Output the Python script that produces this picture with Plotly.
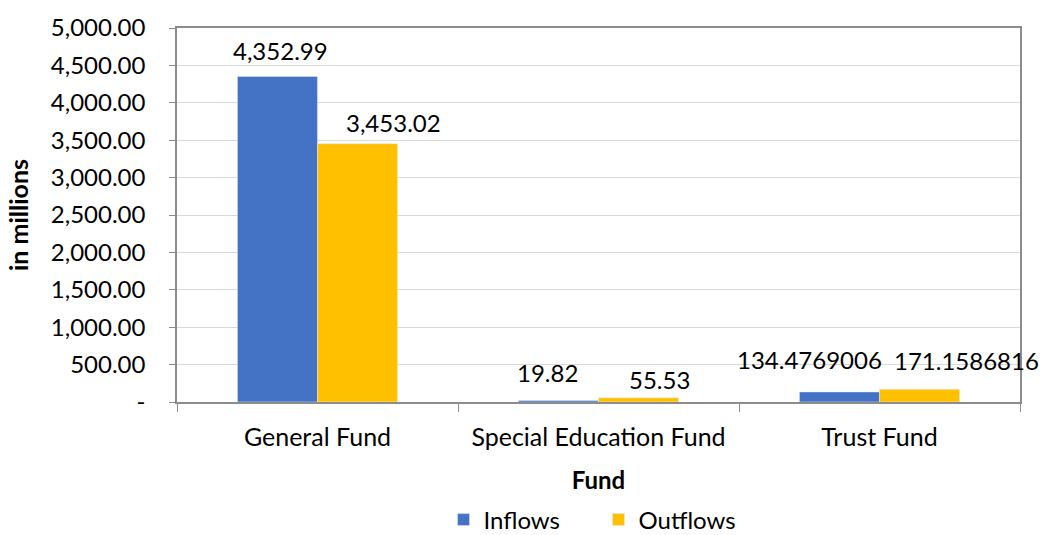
import plotly.graph_objects as go

categories = ["General Fund", "Special Education Fund", "Trust Fund"]
inflows = [4352.99, 19.82, 134.4769006]
outflows = [3453.02, 55.53, 171.1586816]
inflow_labels = ["4,352.99", "19.82", "134.4769006"]
outflow_labels = ["3,453.02", "55.53", "171.1586816"]
y_tickvals = [0, 500, 1000, 1500, 2000, 2500, 3000, 3500, 4000, 4500, 5000]
y_ticktext = ["-", "500.00", "1,000.00", "1,500.00", "2,000.00", "2,500.00",
              "3,000.00", "3,500.00", "4,000.00", "4,500.00", "5,000.00"]

# label placement offsets (pixels) mimicking the hand-placed data labels
inflow_dx = [-37, -51, -70]
inflow_dy = [26, 28, 32]
outflow_dx = [76, 61, 87]
outflow_dy = [21, 18, 29]

FONT = "Lato, 'Open Sans', sans-serif"

fig = go.Figure()
fig.add_trace(go.Bar(x=categories, y=inflows, name="Inflows", marker_color="#4472C4"))
fig.add_trace(go.Bar(x=categories, y=outflows, name="Outflows", marker_color="#FFC000"))

for cat, val, lab, dx, dy in zip(categories, inflows, inflow_labels, inflow_dx, inflow_dy):
    fig.add_annotation(x=cat, y=val, text=lab, showarrow=False, xshift=dx,
                       yshift=dy, yanchor="middle", font=dict(size=24, color="#000"))
for cat, val, lab, dx, dy in zip(categories, outflows, outflow_labels, outflow_dx, outflow_dy):
    fig.add_annotation(x=cat, y=val, text=lab, showarrow=False, xshift=dx,
                       yshift=dy, yanchor="middle", font=dict(size=24, color="#000"))

fig.update_layout(
    autosize=False,
    width=1041, height=535,
    margin=dict(l=177, r=21, t=28, b=133),
    paper_bgcolor="white", plot_bgcolor="white",
    font=dict(family=FONT, size=24, color="#000"),
    barmode="group", bargap=0.43, bargroupgap=0,
    showlegend=True,
    legend=dict(orientation="h", x=0.5, xanchor="center",
                yref="container", y=0.028, yanchor="middle",
                entrywidth=110, font=dict(size=24), traceorder="normal"),
    xaxis=dict(
        automargin=False,
        range=[-0.5, 2.5], fixedrange=True,
        showline=True, linecolor="#8c8c8c", linewidth=1.5, mirror=True,
        ticks="outside", tickson="boundaries", ticklen=8, tickcolor="#8c8c8c",
        ticklabelstandoff=12,
        title=dict(text="<b>Fund</b>", font=dict(size=24), standoff=22),
        tickfont=dict(size=25),
    ),
    yaxis=dict(
        automargin=False,
        range=[0, 5000], tickvals=y_tickvals, ticktext=y_ticktext,
        showline=True, linecolor="#8c8c8c", linewidth=1.5, mirror=True,
        ticks="outside", ticklen=6, tickcolor="#8c8c8c",
        gridcolor="#d9d9d9", gridwidth=1, zeroline=False,
        ticklabelstandoff=19,
        title=dict(text="<b>in millions</b>", font=dict(size=25), standoff=15),
        tickfont=dict(size=24),
    ),
)

fig.write_html("out.html",
               config={"responsive": False, "displayModeBar": False},
               post_script="document.body.style.margin='0';")
